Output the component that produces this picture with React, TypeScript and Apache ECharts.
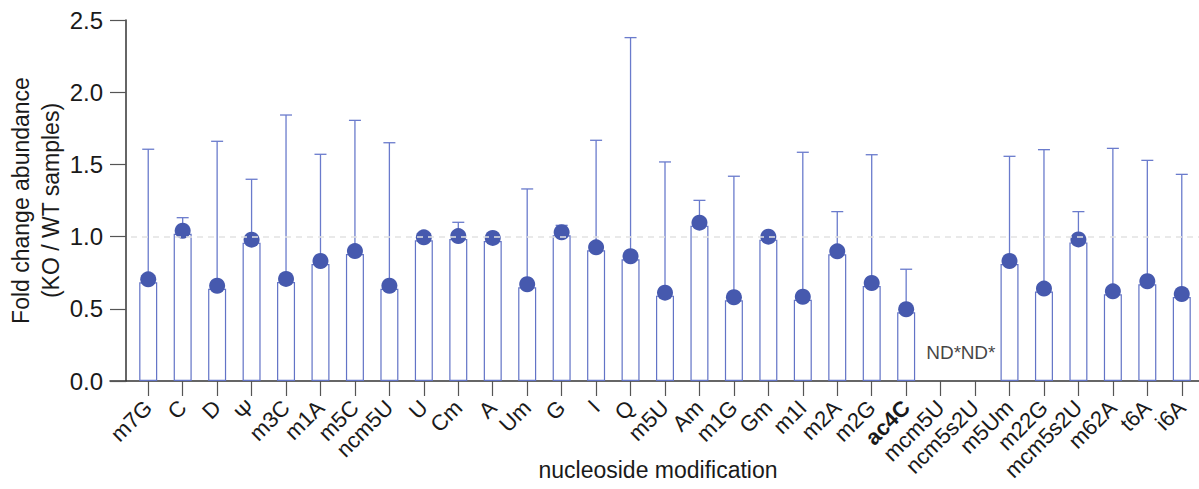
import React, { useEffect, useRef } from "react";
import * as echarts from "echarts";

const categories = ["m7G","C","D","Ψ","m3C","m1A","m5C","ncm5U","U","Cm","A","Um","G","I","Q","m5U","Am","m1G","Gm","m1I","m2A","m2G","ac4C","mcm5U","ncm5s2U","m5Um","m22G","mcm5s2U","m62A","t6A","i6A"];
const means: (number | null)[] = [0.683,1.020,0.639,0.958,0.686,0.810,0.879,0.639,0.974,0.983,0.970,0.649,1.009,0.905,0.843,0.591,1.076,0.559,0.979,0.563,0.877,0.658,0.476,null,null,0.810,0.619,0.960,0.600,0.670,0.582];
const upper: (number | null)[] = [1.605,1.131,1.660,1.397,1.842,1.570,1.805,1.650,null,1.099,null,1.330,1.078,1.667,2.378,1.517,1.251,1.418,null,1.584,1.173,1.567,0.774,null,null,1.556,1.602,1.173,1.611,1.528,1.431];
const ndLabels: (string | null)[] = categories.map((c) => (c === "mcm5U" || c === "ncm5s2U" ? "ND*" : null));
const yTicks = [0, 0.5, 1.0, 1.5, 2.0, 2.5];
const boldCategory = "ac4C";

const FONT = "'Liberation Sans', Arial, Helvetica, sans-serif";

export default function App() {
  const ref = useRef<HTMLDivElement>(null);
  useEffect(() => {
    document.body.style.margin = "0";
    const chart = echarts.init(ref.current!, undefined, { renderer: "svg" });
    const errData = categories.map((c, i) => [i, means[i], upper[i]]);
    chart.setOption({
      animation: false,
      backgroundColor: "#ffffff",
      textStyle: { fontFamily: FONT },
      grid: [
        { left: 131, right: 0, top: 20, bottom: 108, containLabel: false, outerBoundsMode: "none" },
        { left: 110, right: 0, top: 20, bottom: 108, containLabel: false, outerBoundsMode: "none" },
      ],
      xAxis: [
        {
          type: "category",
          gridIndex: 0,
          data: categories,
          boundaryGap: true,
          axisLine: { show: false },
          axisTick: { show: true, alignWithLabel: true, length: 15, lineStyle: { color: "#555", width: 1.2 } },
          axisLabel: {
            rotate: 45,
            margin: 23,
            fontSize: 22,
            color: "#1a1a1a",
            fontFamily: FONT,
            interval: 0,
            hideOverlap: false,
            formatter: (v: string) => (v === boldCategory ? `{b|${v}}` : v),
            rich: { b: { fontWeight: "bold", fontSize: 22, color: "#1a1a1a", fontFamily: FONT } },
          },
          name: "nucleoside modification",
          nameLocation: "middle",
          nameGap: 77,
          nameMoveOverlap: false,
          nameTextStyle: { fontSize: 23, color: "#1a1a1a", fontFamily: FONT, padding: [0, 14, 0, 0] },
        },
        {
          type: "value",
          gridIndex: 1,
          min: 0,
          max: 1,
          axisLine: { show: true, onZero: false, lineStyle: { color: "#333", width: 1.5 } },
          axisTick: { show: false },
          axisLabel: { show: false },
          splitLine: { show: false },
        },
      ],
      yAxis: [
        {
          type: "value",
          gridIndex: 0,
          min: 0,
          max: 2.5,
          interval: 0.5,
          offset: 5,
          axisLine: { show: true, lineStyle: { color: "#333", width: 1.5 } },
          axisTick: { show: true, length: 16, lineStyle: { color: "#555", width: 1.2 } },
          axisLabel: {
            margin: 23,
            fontSize: 24,
            color: "#1a1a1a",
            fontFamily: FONT,
            formatter: (v: number) => (yTicks.includes(v) ? v.toFixed(1) : ""),
          },
          splitLine: { show: false },
          name: "Fold change abundance\n(KO / WT samples)",
          nameLocation: "middle",
          nameGap: 60,
          nameMoveOverlap: false,
          nameTextStyle: { fontSize: 23, color: "#1a1a1a", fontFamily: FONT, lineHeight: 30 },
        },
        {
          type: "value",
          gridIndex: 1,
          show: false,
        },
      ],
      series: [
        {
          type: "bar",
          xAxisIndex: 0,
          yAxisIndex: 0,
          data: means,
          barWidth: 18,
          itemStyle: { color: "#ffffff", borderColor: "#6273c6", borderWidth: 1.2 },
          silent: true,
          markLine: {
            silent: true,
            symbol: ["none", "none"],
            label: { show: false },
            lineStyle: { type: [6, 5], color: "#e2e2e2", width: 1.5 },
            data: [{ yAxis: 1.0 }],
          },
          z: 2,
        },
        {
          type: "custom",
          xAxisIndex: 0,
          yAxisIndex: 0,
          data: errData,
          z: 3,
          renderItem: (params: any, api: any) => {
            const up = api.value(2);
            const m = api.value(1);
            if (up == null || isNaN(up) || m == null || isNaN(m)) return null;
            const base = api.coord([api.value(0), m]);
            const top = api.coord([api.value(0), up]);
            const style = { stroke: "#6a7bcc", lineWidth: 1.3 };
            return {
              type: "group",
              children: [
                { type: "line", shape: { x1: base[0], y1: base[1], x2: top[0], y2: top[1] }, style },
                { type: "line", shape: { x1: top[0] - 6, y1: top[1], x2: top[0] + 6, y2: top[1] }, style },
              ],
            };
          },
        },
        {
          type: "scatter",
          xAxisIndex: 0,
          yAxisIndex: 0,
          data: means,
          symbol: "circle",
          symbolSize: 16,
          symbolOffset: [0, -3],
          itemStyle: { color: "#4659ae", opacity: 1 },
          z: 4,
        },
        {
          type: "scatter",
          xAxisIndex: 0,
          yAxisIndex: 0,
          data: ndLabels.map((l) => (l ? 0 : null)),
          symbolSize: 0,
          label: {
            show: true,
            position: "top",
            distance: 19,
            offset: [3, 0],
            fontSize: 19,
            color: "#111111",
            fontFamily: FONT,
            formatter: (p: any) => ndLabels[p.dataIndex] || "",
          },
          z: 5,
        },
      ],
    });
    return () => chart.dispose();
  }, []);
  return <div ref={ref} style={{ width: 1199, height: 489 }} />;
}
